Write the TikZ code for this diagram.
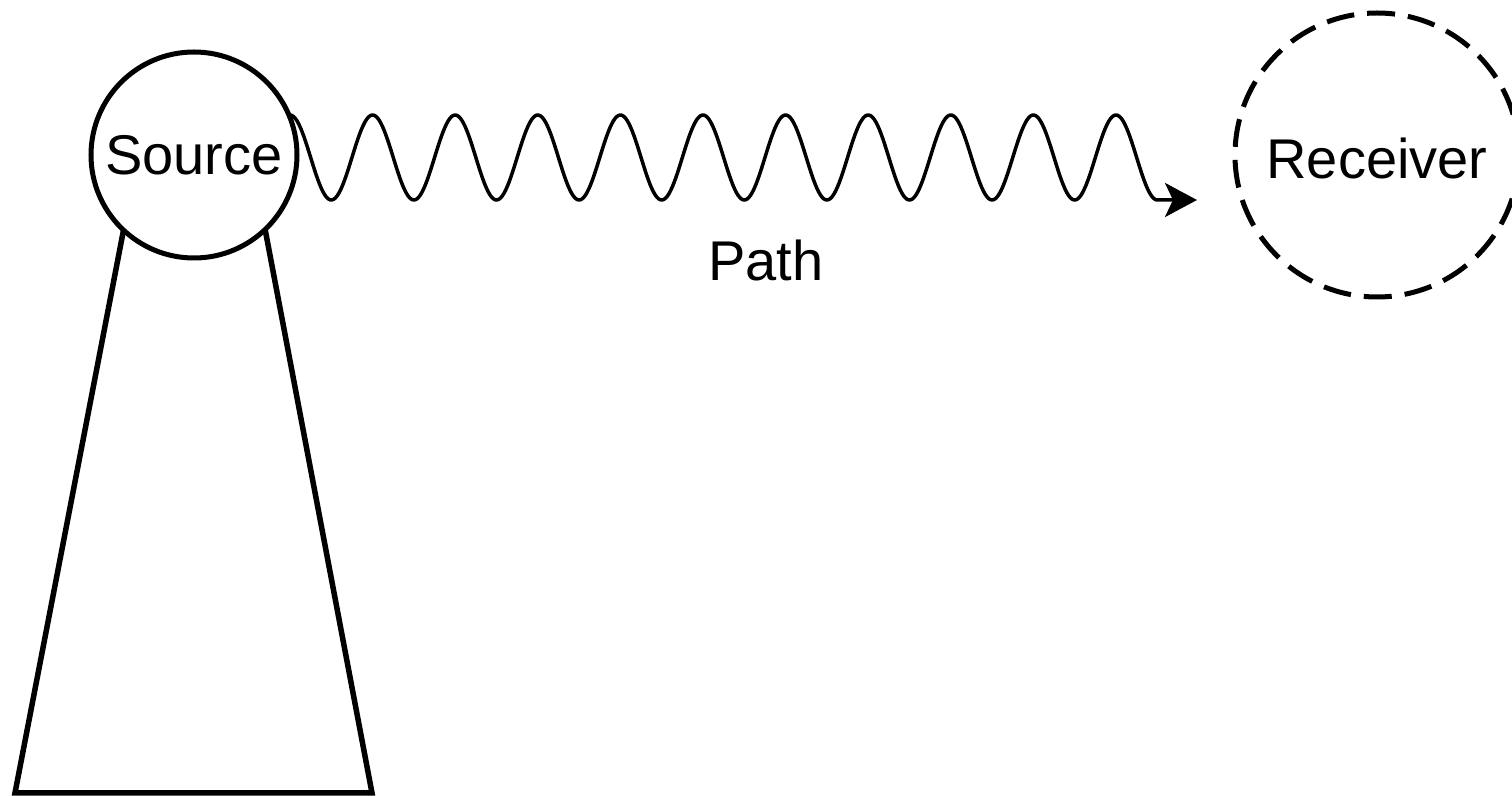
\documentclass[tikz,border=0pt]{standalone}
\usepackage{fontspec}
\setmainfont{Liberation Sans}
\usetikzlibrary{arrows.meta}
\tikzset{
  lbl/.style={font=\fontsize{28}{32}\selectfont, inner sep=0pt},
  ring/.style={circle, draw=black, line width=2.5pt, fill=white, inner sep=0pt},
  dashring/.style={ring, dash pattern=on 14pt off 6.5pt},
  wave/.style={line width=1.75pt, line join=round, -{Stealth[length=16pt, width=17pt, inset=4pt]}},
  tower/.style={line width=2.75pt, line join=miter}
}
\begin{document}
\begin{tikzpicture}[x=0.5pt, y=-0.5pt]
  \useasboundingbox (0,0) rectangle (1512,796);
  \clip (0,0) rectangle (1512,796);

  % mast under the source
  \draw[tower] (138,155) -- (15,793) -- (372,793) -- (251,155);

  % source and receiver
  \node[ring, minimum size=103pt, lbl] (src) at (194,155) {Source};
  \node[dashring, minimum size=142pt, lbl] (rcv) at (1377,155) {};
  \node[lbl] (rcvtext) at (1377,158) {Receiver};

  % propagation path
  \coordinate (tip) at (1197,200);
  \draw[wave] (src.23) -- plot[domain=290:1157.3, samples=500]
      (\x, {157.5-42.5*cos(((\x-290)/82.6)*360)}) -- (tip);
  \node[lbl] (pathlbl) at (766,260) {Path};
\end{tikzpicture}
\end{document}
